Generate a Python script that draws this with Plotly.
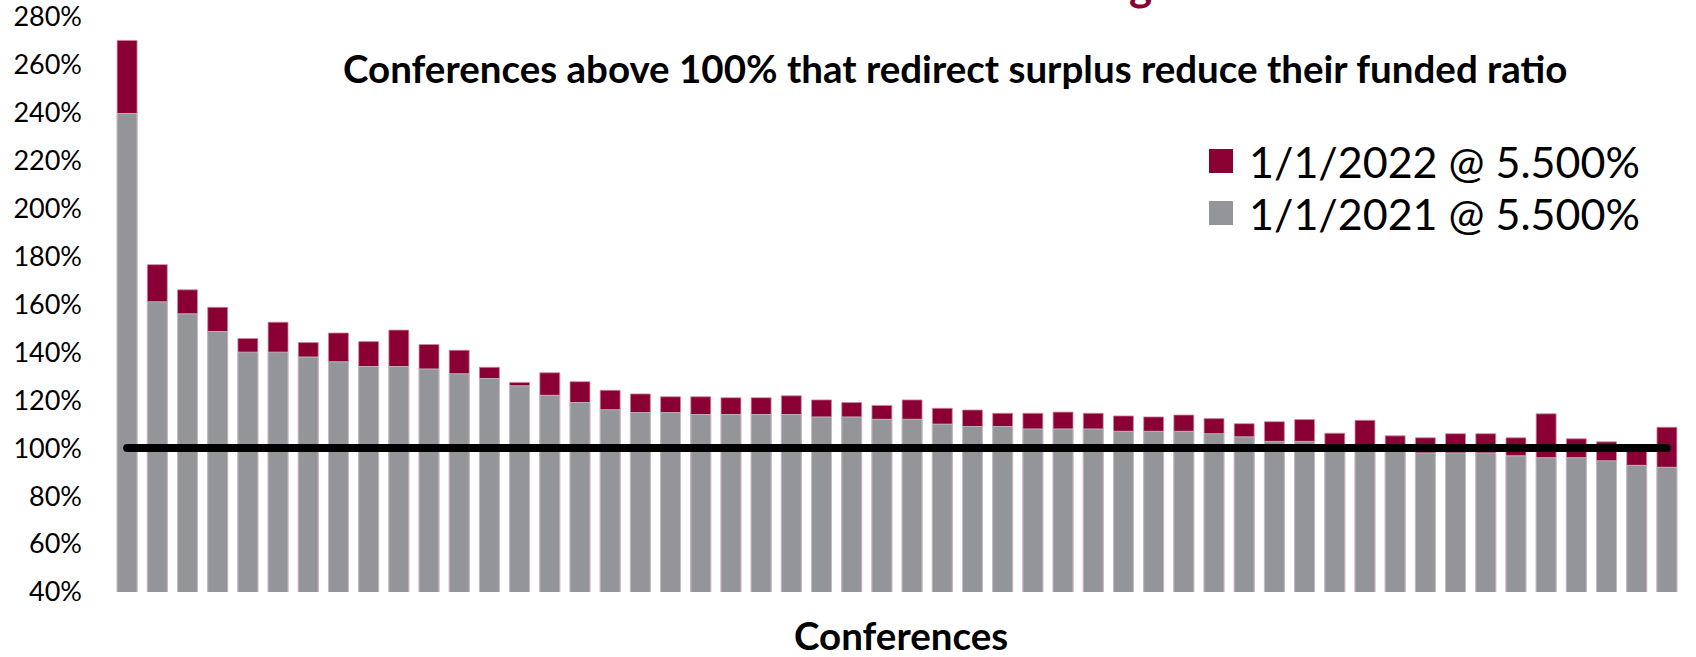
import plotly.graph_objects as go

# Funded ratio by conference, sorted by the 1/1/2021 value
conferences = [f"Conference {i}" for i in range(1, 53)]

funded_2021 = [239.5, 161.0, 156.0, 148.6, 140.0, 140.0, 138.0, 136.0, 134.0, 134.0,
               133.0, 131.0, 129.0, 126.0, 122.0, 119.0, 116.0, 114.8, 114.8, 114.0,
               114.0, 114.0, 114.0, 113.0, 113.0, 112.0, 112.0, 110.0, 109.0, 109.0,
               108.0, 108.0, 108.0, 107.0, 107.0, 107.0, 106.0, 104.7, 102.8, 102.8,
               99.6, 99.6, 99.5, 98.0, 98.0, 98.0, 96.8, 96.0, 96.0, 94.7,
               92.8, 92.0]

funded_2022 = [270.0, 176.5, 166.0, 158.7, 145.7, 152.5, 144.0, 148.0, 144.4, 149.2,
               143.2, 140.8, 133.7, 127.4, 131.4, 127.7, 124.1, 122.6, 121.4, 121.4,
               121.0, 121.0, 121.8, 120.1, 119.0, 117.8, 120.1, 116.6, 115.9, 114.5,
               114.5, 115.0, 114.5, 113.4, 113.0, 113.8, 112.3, 110.2, 111.0, 111.9,
               106.2, 111.6, 105.1, 104.3, 106.0, 106.0, 104.3, 114.3, 103.9, 102.6,
               100.8, 108.7]

series_names = ["1/1/2022 @ 5.500%", "1/1/2021 @ 5.500%"]
full_funding = 100.0
y_ticks = [40, 60, 80, 100, 120, 140, 160, 180, 200, 220, 240, 260, 280]
y_tick_labels = [f"{v}%" for v in y_ticks]

CRIMSON = "#8a0034"
GREY = "#949599"
FONT = "Lato"

W, H = 1696, 657
ML, MR, MT, MB = 112, 14, 14, 65
PW, PH = W - ML - MR, H - MT - MB


def px_x(x):
    return (x - ML) / PW


def px_y(y):
    return 1 - (y - MT) / PH


fig = go.Figure()

fig.add_trace(go.Bar(
    x=conferences, y=funded_2022, name=series_names[0],
    marker=dict(color=CRIMSON, line=dict(color="#c98aa0", width=0.8)),
    showlegend=False,
))
fig.add_trace(go.Bar(
    x=conferences, y=funded_2021, name=series_names[1],
    marker=dict(color=GREY, line=dict(color="#c9c9cc", width=0.8)),
    showlegend=False,
))

# 100% funded reference line across the conferences
fig.add_trace(go.Scatter(
    x=[conferences[0], conferences[-1]], y=[full_funding, full_funding],
    mode="lines+markers",
    line=dict(color="black", width=8),
    marker=dict(color="black", size=8),
    showlegend=False, hoverinfo="skip",
))

annotations = [
    dict(text="<b>Conferences above 100% that redirect surplus reduce their funded ratio</b>",
         x=px_x(955), y=px_y(68), xref="paper", yref="paper",
         xanchor="center", yanchor="middle", showarrow=False,
         font=dict(family=FONT, size=38.5, color="black")),
    dict(text="<b>Conferences</b>",
         x=px_x(901), y=px_y(635), xref="paper", yref="paper",
         xanchor="center", yanchor="middle", showarrow=False,
         font=dict(family=FONT, size=38.5, color="black")),
    dict(text="<b>g</b>",
         x=px_x(1140), y=px_y(-16), xref="paper", yref="paper",
         xanchor="center", yanchor="middle", showarrow=False,
         font=dict(family=FONT, size=44, color=CRIMSON)),
]

shapes = []
legend_rows = [(series_names[0], CRIMSON, 161), (series_names[1], GREY, 213)]
for name, color, cy in legend_rows:
    shapes.append(dict(type="rect", xref="paper", yref="paper",
                       x0=px_x(1209), x1=px_x(1233), y0=px_y(cy - 12), y1=px_y(cy + 12),
                       fillcolor=color, line=dict(width=0)))
    annotations.append(dict(text=name, x=px_x(1247), y=px_y(cy), xref="paper", yref="paper",
                            xanchor="left", yanchor="middle", showarrow=False,
                            font=dict(family=FONT, size=43, color="black")))

fig.update_layout(
    width=W, height=H,
    margin=dict(l=ML, r=MR, t=MT, b=MB, autoexpand=False),
    paper_bgcolor="white", plot_bgcolor="white",
    barmode="overlay", bargap=0.34,
    font=dict(family=FONT, color="black"),
    annotations=annotations, shapes=shapes,
    showlegend=False,
)
fig.update_xaxes(range=[-0.5, len(conferences) - 0.5], showticklabels=False,
                 showgrid=False, zeroline=False, showline=False, ticks="")
fig.update_yaxes(range=[40, 281], tickmode="array", tickvals=y_ticks, ticktext=y_tick_labels,
                 showgrid=False, zeroline=False, showline=False, ticks="",
                 tickfont=dict(family=FONT, size=27, color="black"),
                 ticklabelstandoff=29, ticklabeloverflow="allow", automargin=False)

fig.write_html("out.html")
